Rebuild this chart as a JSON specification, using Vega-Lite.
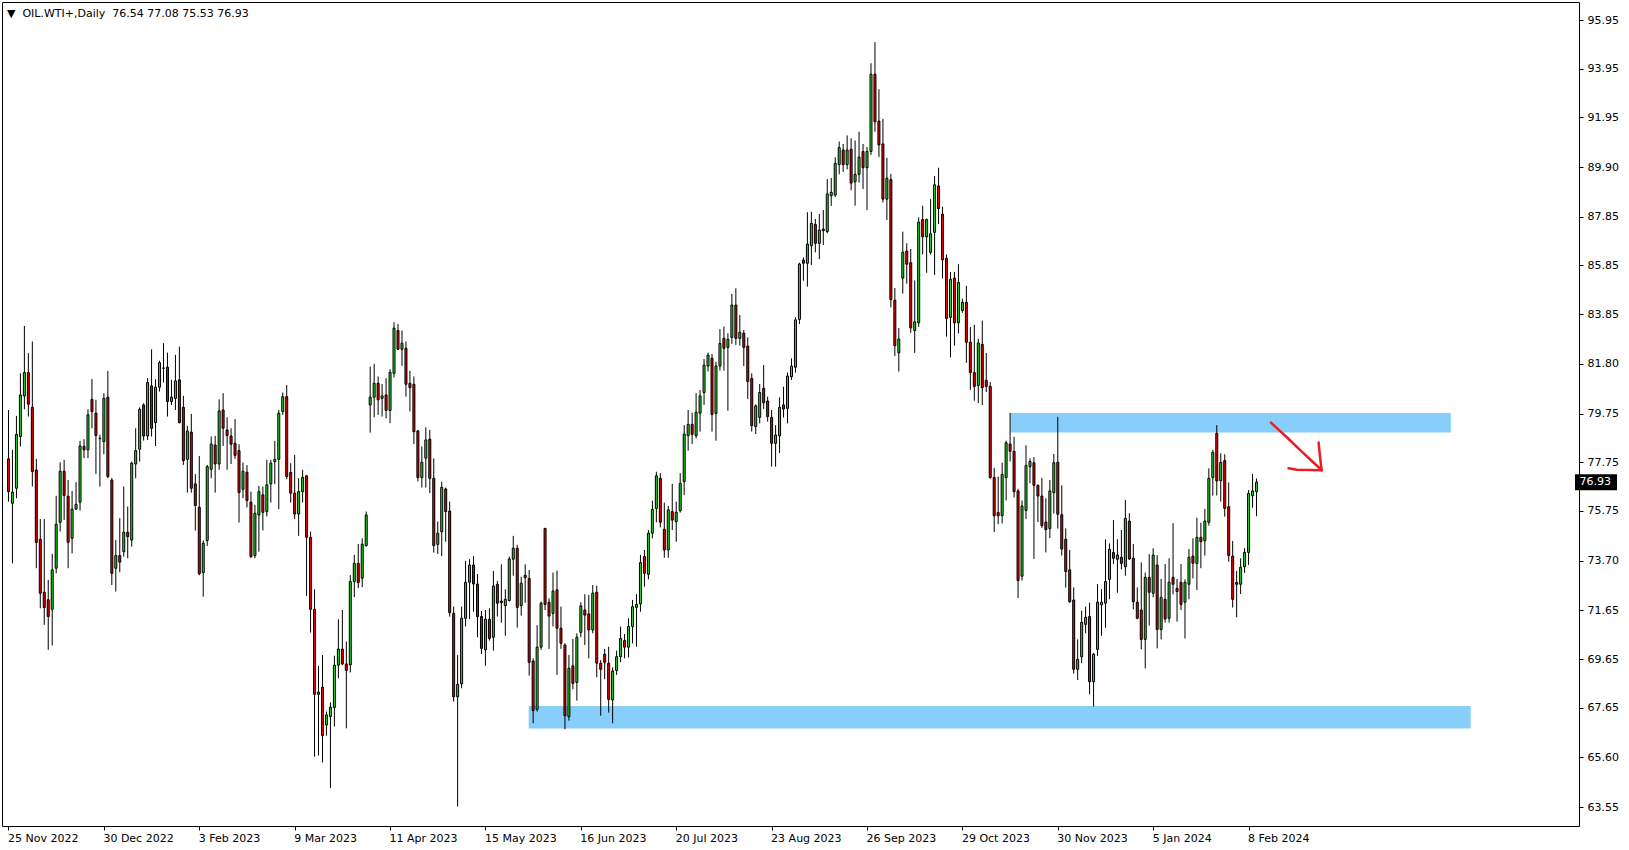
{
"$schema":"https://vega.github.io/schema/vega-lite/v6.json",
"width":1577,"height":824,
"autosize":{"type":"none"},
"padding":{"left":2,"top":2,"right":50,"bottom":24},
"background":"white",
"config":{"view":{"stroke":"black","strokeWidth":1},"font":"DejaVu Sans"},
"title":{"text":"▼\u00a0\u00a0OIL.WTI+,Daily\u00a0\u00a076.54 77.08 75.53 76.93","anchor":"start","frame":"group","offset":-26,"baseline":"alphabetic","dx":5,"font":"DejaVu Sans","fontSize":11,"fontWeight":"normal","color":"black"},
"datasets":{
"zones":[{"x1":252.125,"x2":362.875,"y1":78.97,"y2":79.78},{"x1":130.875,"x2":367.875,"y1":66.79,"y2":67.72}],
"arrow":[
{"s":1,"o":1,"x":317.625,"y":79.38},{"s":1,"o":2,"x":321.625,"y":78.78},{"s":1,"o":3,"x":325.125,"y":78.23},{"s":1,"o":4,"x":328.375,"y":77.73},{"s":1,"o":5,"x":330.375,"y":77.43},
{"s":2,"o":1,"x":322.05,"y":77.5},{"s":2,"o":2,"x":324.125,"y":77.44},{"s":2,"o":3,"x":327.45,"y":77.43},{"s":2,"o":4,"x":330.375,"y":77.42},
{"s":3,"o":1,"x":329.625,"y":78.56},{"s":3,"o":2,"x":329.8,"y":78.26},{"s":3,"o":3,"x":330.125,"y":77.77},{"s":3,"o":4,"x":330.375,"y":77.43}],
"last":[{"p":76.93}],
"candles":[
{"i":0,"o":77.89,"h":79.90,"l":76.13,"c":76.54},
{"i":1,"o":76.06,"h":78.26,"l":73.59,"c":76.52},
{"i":2,"o":76.68,"h":79.66,"l":76.27,"c":78.90},
{"i":3,"o":78.81,"h":81.41,"l":78.40,"c":80.52},
{"i":4,"o":80.48,"h":83.36,"l":79.93,"c":81.44},
{"i":5,"o":81.44,"h":82.24,"l":79.63,"c":80.14},
{"i":6,"o":80.01,"h":82.72,"l":76.75,"c":77.37},
{"i":7,"o":77.43,"h":77.89,"l":73.39,"c":74.45},
{"i":8,"o":74.58,"h":75.41,"l":71.74,"c":72.36},
{"i":9,"o":72.40,"h":75.41,"l":71.06,"c":71.77},
{"i":10,"o":72.09,"h":72.91,"l":70.03,"c":71.40},
{"i":11,"o":71.70,"h":73.98,"l":70.21,"c":73.32},
{"i":12,"o":73.39,"h":76.37,"l":73.18,"c":75.20},
{"i":13,"o":75.28,"h":77.75,"l":74.90,"c":77.38},
{"i":14,"o":77.38,"h":77.85,"l":75.38,"c":76.38},
{"i":15,"o":76.35,"h":77.02,"l":73.39,"c":74.46},
{"i":16,"o":74.62,"h":76.57,"l":74.00,"c":75.82},
{"i":17,"o":75.82,"h":76.93,"l":75.79,"c":76.02},
{"i":18,"o":76.11,"h":78.63,"l":75.76,"c":78.42},
{"i":19,"o":78.40,"h":78.70,"l":77.92,"c":78.26},
{"i":20,"o":78.26,"h":79.93,"l":77.92,"c":79.70},
{"i":21,"o":80.34,"h":81.18,"l":79.15,"c":79.84},
{"i":22,"o":79.77,"h":80.32,"l":77.27,"c":78.85},
{"i":23,"o":78.74,"h":78.88,"l":76.75,"c":78.72},
{"i":24,"o":78.60,"h":80.59,"l":78.08,"c":80.38},
{"i":25,"o":80.43,"h":81.51,"l":77.10,"c":77.16},
{"i":26,"o":77.02,"h":77.10,"l":72.70,"c":73.18},
{"i":27,"o":73.39,"h":74.55,"l":72.43,"c":73.91},
{"i":28,"o":73.91,"h":75.45,"l":73.22,"c":73.64},
{"i":29,"o":74.07,"h":76.75,"l":73.87,"c":74.87},
{"i":30,"o":74.87,"h":75.93,"l":73.80,"c":74.69},
{"i":31,"o":74.55,"h":77.78,"l":74.28,"c":77.71},
{"i":32,"o":77.68,"h":79.15,"l":77.09,"c":78.23},
{"i":33,"o":78.29,"h":80.01,"l":77.78,"c":79.93},
{"i":34,"o":80.11,"h":80.18,"l":78.64,"c":78.83},
{"i":35,"o":78.83,"h":81.21,"l":78.67,"c":81.03},
{"i":36,"o":80.89,"h":82.40,"l":78.81,"c":79.15},
{"i":37,"o":79.38,"h":81.17,"l":78.42,"c":80.84},
{"i":38,"o":80.84,"h":81.93,"l":80.66,"c":81.85},
{"i":39,"o":81.62,"h":82.65,"l":81.03,"c":81.63},
{"i":40,"o":81.66,"h":82.26,"l":79.63,"c":80.25},
{"i":41,"o":80.25,"h":81.14,"l":80.10,"c":80.43},
{"i":42,"o":80.38,"h":82.17,"l":79.90,"c":81.10},
{"i":43,"o":81.14,"h":82.51,"l":79.35,"c":79.38},
{"i":44,"o":80.01,"h":80.48,"l":77.64,"c":77.82},
{"i":45,"o":77.87,"h":79.25,"l":76.50,"c":79.04},
{"i":46,"o":78.99,"h":79.74,"l":76.50,"c":76.68},
{"i":47,"o":76.86,"h":77.26,"l":74.94,"c":75.97},
{"i":48,"o":75.90,"h":78.01,"l":73.10,"c":73.16},
{"i":49,"o":73.21,"h":74.53,"l":72.22,"c":74.42},
{"i":50,"o":74.53,"h":77.64,"l":74.31,"c":77.57},
{"i":51,"o":77.46,"h":78.81,"l":77.09,"c":78.50},
{"i":52,"o":78.46,"h":78.83,"l":76.50,"c":77.68},
{"i":53,"o":77.68,"h":80.34,"l":77.44,"c":79.86},
{"i":54,"o":79.90,"h":80.59,"l":78.42,"c":79.15},
{"i":55,"o":79.08,"h":79.60,"l":77.44,"c":78.85},
{"i":56,"o":78.83,"h":79.15,"l":77.68,"c":78.49},
{"i":57,"o":78.53,"h":79.53,"l":77.89,"c":78.03},
{"i":58,"o":78.23,"h":78.49,"l":75.27,"c":76.50},
{"i":59,"o":76.64,"h":77.74,"l":76.27,"c":77.38},
{"i":60,"o":77.34,"h":77.63,"l":75.89,"c":76.17},
{"i":61,"o":76.11,"h":76.54,"l":73.80,"c":73.87},
{"i":62,"o":73.91,"h":76.00,"l":73.80,"c":75.65},
{"i":63,"o":75.58,"h":76.78,"l":74.07,"c":76.54},
{"i":64,"o":76.41,"h":76.75,"l":74.94,"c":75.69},
{"i":65,"o":75.72,"h":77.85,"l":75.52,"c":76.82},
{"i":66,"o":76.86,"h":77.85,"l":76.09,"c":77.71},
{"i":67,"o":77.78,"h":78.63,"l":76.85,"c":77.87},
{"i":68,"o":77.87,"h":79.90,"l":75.82,"c":79.77},
{"i":69,"o":79.84,"h":80.62,"l":79.70,"c":80.45},
{"i":70,"o":80.45,"h":80.93,"l":77.05,"c":77.16},
{"i":71,"o":77.33,"h":77.71,"l":76.09,"c":76.48},
{"i":72,"o":76.48,"h":78.05,"l":75.41,"c":75.62},
{"i":73,"o":75.62,"h":77.09,"l":74.72,"c":76.54},
{"i":74,"o":76.54,"h":77.44,"l":76.09,"c":77.13},
{"i":75,"o":77.19,"h":77.23,"l":72.25,"c":74.66},
{"i":76,"o":74.66,"h":74.90,"l":70.74,"c":71.70},
{"i":77,"o":71.70,"h":72.52,"l":65.64,"c":68.20},
{"i":78,"o":68.20,"h":69.37,"l":65.68,"c":68.29},
{"i":79,"o":68.49,"h":69.82,"l":65.40,"c":66.50},
{"i":80,"o":66.94,"h":67.49,"l":66.50,"c":67.35},
{"i":81,"o":67.29,"h":67.87,"l":64.34,"c":67.67},
{"i":82,"o":67.66,"h":69.79,"l":66.87,"c":69.40},
{"i":83,"o":69.40,"h":71.29,"l":68.86,"c":70.06},
{"i":84,"o":70.06,"h":71.67,"l":69.40,"c":69.45},
{"i":85,"o":69.45,"h":70.37,"l":66.80,"c":69.18},
{"i":86,"o":69.41,"h":73.11,"l":69.10,"c":72.84},
{"i":87,"o":72.84,"h":73.94,"l":72.20,"c":73.59},
{"i":88,"o":73.59,"h":74.39,"l":72.57,"c":72.80},
{"i":89,"o":72.98,"h":74.62,"l":72.61,"c":74.38},
{"i":90,"o":74.32,"h":75.72,"l":74.28,"c":75.58},
{"i":91,"o":80.11,"h":81.69,"l":78.97,"c":80.43},
{"i":92,"o":80.43,"h":81.80,"l":79.60,"c":81.00},
{"i":93,"o":81.00,"h":81.28,"l":79.70,"c":80.32},
{"i":94,"o":80.38,"h":80.97,"l":79.63,"c":80.48},
{"i":95,"o":80.52,"h":81.21,"l":79.56,"c":79.88},
{"i":96,"o":79.88,"h":81.58,"l":79.36,"c":81.45},
{"i":97,"o":81.41,"h":83.51,"l":81.24,"c":83.27},
{"i":98,"o":83.17,"h":83.44,"l":82.37,"c":82.40},
{"i":99,"o":82.40,"h":83.17,"l":81.72,"c":82.65},
{"i":100,"o":82.44,"h":82.72,"l":80.45,"c":80.96},
{"i":101,"o":81.00,"h":81.51,"l":79.84,"c":80.82},
{"i":102,"o":80.96,"h":81.28,"l":78.50,"c":79.01},
{"i":103,"o":79.04,"h":79.08,"l":76.96,"c":77.12},
{"i":104,"o":77.12,"h":78.40,"l":76.71,"c":77.75},
{"i":105,"o":77.92,"h":79.19,"l":76.71,"c":78.67},
{"i":106,"o":78.70,"h":79.08,"l":76.48,"c":77.09},
{"i":107,"o":77.09,"h":77.91,"l":74.03,"c":74.32},
{"i":108,"o":74.37,"h":75.31,"l":73.98,"c":74.83},
{"i":109,"o":74.89,"h":76.95,"l":73.89,"c":76.72},
{"i":110,"o":76.65,"h":76.71,"l":74.48,"c":75.72},
{"i":111,"o":75.74,"h":76.13,"l":71.40,"c":71.56},
{"i":112,"o":71.53,"h":71.81,"l":67.90,"c":68.10},
{"i":113,"o":68.10,"h":69.82,"l":63.58,"c":68.61},
{"i":114,"o":68.63,"h":71.81,"l":68.45,"c":71.33},
{"i":115,"o":71.33,"h":73.69,"l":70.99,"c":72.81},
{"i":116,"o":72.81,"h":73.76,"l":71.30,"c":73.52},
{"i":117,"o":73.52,"h":73.89,"l":71.60,"c":72.74},
{"i":118,"o":72.74,"h":73.15,"l":70.55,"c":71.40},
{"i":119,"o":71.40,"h":71.63,"l":69.86,"c":70.09},
{"i":120,"o":70.03,"h":71.67,"l":69.38,"c":71.29},
{"i":121,"o":71.29,"h":71.74,"l":70.41,"c":70.50},
{"i":122,"o":70.55,"h":73.28,"l":70.00,"c":72.66},
{"i":123,"o":72.73,"h":72.87,"l":71.40,"c":71.95},
{"i":124,"o":72.04,"h":73.55,"l":71.15,"c":71.97},
{"i":125,"o":71.85,"h":72.52,"l":70.61,"c":72.11},
{"i":126,"o":72.06,"h":73.87,"l":72.02,"c":73.77},
{"i":127,"o":73.76,"h":74.72,"l":73.08,"c":74.21},
{"i":128,"o":74.21,"h":74.35,"l":70.94,"c":71.78},
{"i":129,"o":71.85,"h":73.04,"l":71.44,"c":72.77},
{"i":130,"o":73.10,"h":73.55,"l":71.97,"c":73.00},
{"i":131,"o":72.97,"h":73.32,"l":68.97,"c":69.52},
{"i":132,"o":69.57,"h":69.68,"l":67.01,"c":67.53},
{"i":133,"o":67.58,"h":71.05,"l":67.49,"c":70.14},
{"i":134,"o":70.14,"h":72.02,"l":70.03,"c":71.95},
{"i":135,"o":75.03,"h":75.03,"l":71.67,"c":71.90},
{"i":136,"o":71.99,"h":72.15,"l":70.07,"c":71.42},
{"i":137,"o":71.53,"h":73.21,"l":70.99,"c":72.45},
{"i":138,"o":72.50,"h":73.29,"l":69.00,"c":70.92},
{"i":139,"o":70.92,"h":71.81,"l":70.07,"c":70.30},
{"i":140,"o":70.23,"h":70.30,"l":66.76,"c":67.32},
{"i":141,"o":67.28,"h":69.82,"l":67.12,"c":69.27},
{"i":142,"o":69.37,"h":70.48,"l":68.41,"c":68.65},
{"i":143,"o":68.69,"h":70.71,"l":67.94,"c":70.55},
{"i":144,"o":70.75,"h":71.99,"l":70.55,"c":71.84},
{"i":145,"o":71.67,"h":72.32,"l":70.23,"c":71.46},
{"i":146,"o":71.51,"h":72.29,"l":69.68,"c":70.85},
{"i":147,"o":70.85,"h":72.70,"l":70.71,"c":72.36},
{"i":148,"o":72.40,"h":72.67,"l":68.90,"c":69.48},
{"i":149,"o":69.48,"h":69.61,"l":67.32,"c":69.23},
{"i":150,"o":69.85,"h":70.07,"l":68.82,"c":69.52},
{"i":151,"o":69.48,"h":70.16,"l":67.45,"c":67.99},
{"i":152,"o":67.97,"h":69.31,"l":67.01,"c":69.16},
{"i":153,"o":69.18,"h":70.00,"l":69.00,"c":69.75},
{"i":154,"o":69.75,"h":70.99,"l":69.52,"c":70.50},
{"i":155,"o":70.41,"h":70.68,"l":69.68,"c":70.14},
{"i":156,"o":70.14,"h":71.33,"l":69.72,"c":70.99},
{"i":157,"o":70.99,"h":72.08,"l":70.30,"c":71.81},
{"i":158,"o":71.78,"h":72.32,"l":70.16,"c":71.90},
{"i":159,"o":71.92,"h":73.94,"l":71.60,"c":73.62},
{"i":160,"o":73.87,"h":74.14,"l":72.63,"c":73.18},
{"i":161,"o":73.14,"h":74.96,"l":72.93,"c":74.83},
{"i":162,"o":74.83,"h":76.17,"l":74.62,"c":75.81},
{"i":163,"o":75.85,"h":77.36,"l":75.28,"c":77.19},
{"i":164,"o":77.09,"h":77.30,"l":75.07,"c":75.28},
{"i":165,"o":74.99,"h":76.09,"l":73.82,"c":74.14},
{"i":166,"o":74.14,"h":75.95,"l":73.82,"c":75.79},
{"i":167,"o":75.72,"h":76.86,"l":74.96,"c":75.37},
{"i":168,"o":75.31,"h":76.13,"l":74.48,"c":75.69},
{"i":169,"o":75.76,"h":77.30,"l":75.68,"c":76.88},
{"i":170,"o":76.95,"h":79.28,"l":76.40,"c":78.91},
{"i":171,"o":78.84,"h":79.90,"l":78.23,"c":79.31},
{"i":172,"o":79.31,"h":79.79,"l":78.50,"c":78.90},
{"i":173,"o":78.84,"h":80.59,"l":78.73,"c":79.81},
{"i":174,"o":79.77,"h":80.72,"l":79.01,"c":80.48},
{"i":175,"o":80.62,"h":82.00,"l":80.11,"c":81.75},
{"i":176,"o":81.71,"h":82.26,"l":81.48,"c":82.16},
{"i":177,"o":82.03,"h":82.21,"l":79.01,"c":79.72},
{"i":178,"o":79.76,"h":81.89,"l":78.64,"c":81.71},
{"i":179,"o":81.71,"h":83.23,"l":81.52,"c":82.64},
{"i":180,"o":82.85,"h":83.33,"l":81.52,"c":82.44},
{"i":181,"o":82.48,"h":83.06,"l":79.87,"c":82.81},
{"i":182,"o":82.89,"h":84.68,"l":82.62,"c":84.22},
{"i":183,"o":84.22,"h":84.91,"l":82.58,"c":82.85},
{"i":184,"o":82.85,"h":83.81,"l":82.55,"c":83.10},
{"i":185,"o":83.06,"h":83.19,"l":81.71,"c":82.48},
{"i":186,"o":82.53,"h":82.89,"l":80.35,"c":81.07},
{"i":187,"o":81.20,"h":81.41,"l":79.01,"c":79.26},
{"i":188,"o":79.22,"h":80.13,"l":78.91,"c":80.07},
{"i":189,"o":79.60,"h":80.97,"l":79.35,"c":80.62},
{"i":190,"o":80.79,"h":81.75,"l":79.94,"c":80.20},
{"i":191,"o":80.27,"h":80.45,"l":79.42,"c":79.63},
{"i":192,"o":79.60,"h":79.90,"l":77.57,"c":78.53},
{"i":193,"o":78.53,"h":79.28,"l":77.57,"c":78.87},
{"i":194,"o":78.84,"h":80.42,"l":78.13,"c":80.01},
{"i":195,"o":80.11,"h":80.86,"l":79.59,"c":79.94},
{"i":196,"o":79.97,"h":81.44,"l":79.35,"c":81.30},
{"i":197,"o":81.27,"h":82.03,"l":81.14,"c":81.71},
{"i":198,"o":81.66,"h":83.72,"l":81.44,"c":83.61},
{"i":199,"o":83.63,"h":85.96,"l":83.44,"c":85.91},
{"i":200,"o":86.07,"h":86.18,"l":85.22,"c":85.94},
{"i":201,"o":85.94,"h":88.04,"l":84.98,"c":86.73},
{"i":202,"o":86.66,"h":88.06,"l":85.87,"c":87.58},
{"i":203,"o":87.54,"h":87.76,"l":86.39,"c":86.76},
{"i":204,"o":86.76,"h":87.97,"l":86.11,"c":87.31},
{"i":205,"o":87.35,"h":88.13,"l":86.69,"c":87.28},
{"i":206,"o":87.24,"h":89.40,"l":87.17,"c":88.79},
{"i":207,"o":88.72,"h":89.45,"l":88.30,"c":88.86},
{"i":208,"o":88.75,"h":90.30,"l":88.66,"c":90.05},
{"i":209,"o":90.00,"h":90.95,"l":89.60,"c":90.70},
{"i":210,"o":90.60,"h":90.85,"l":89.70,"c":90.00},
{"i":211,"o":90.00,"h":91.20,"l":89.80,"c":90.60},
{"i":212,"o":90.63,"h":91.08,"l":88.94,"c":89.24},
{"i":213,"o":89.29,"h":90.99,"l":88.31,"c":89.60},
{"i":214,"o":89.60,"h":91.35,"l":89.26,"c":90.31},
{"i":215,"o":90.54,"h":90.85,"l":88.99,"c":89.87},
{"i":216,"o":89.87,"h":90.72,"l":88.13,"c":90.54},
{"i":217,"o":90.54,"h":94.17,"l":90.40,"c":93.72},
{"i":218,"o":93.72,"h":95.04,"l":91.35,"c":91.76},
{"i":219,"o":91.79,"h":93.10,"l":90.31,"c":90.81},
{"i":220,"o":90.85,"h":91.88,"l":88.44,"c":88.58},
{"i":221,"o":88.58,"h":90.28,"l":87.72,"c":89.44},
{"i":222,"o":89.38,"h":89.62,"l":84.12,"c":84.44},
{"i":223,"o":84.42,"h":84.92,"l":82.12,"c":82.55},
{"i":224,"o":82.25,"h":83.28,"l":81.48,"c":82.82},
{"i":225,"o":85.33,"h":87.24,"l":84.69,"c":86.39},
{"i":226,"o":86.44,"h":86.76,"l":85.10,"c":85.90},
{"i":227,"o":85.96,"h":86.53,"l":83.08,"c":83.28},
{"i":228,"o":83.17,"h":85.23,"l":82.25,"c":83.53},
{"i":229,"o":83.49,"h":87.83,"l":83.32,"c":87.63},
{"i":230,"o":87.74,"h":88.31,"l":86.30,"c":87.03},
{"i":231,"o":87.03,"h":87.78,"l":85.55,"c":87.74},
{"i":232,"o":86.39,"h":88.58,"l":86.30,"c":87.15},
{"i":233,"o":87.21,"h":89.53,"l":85.46,"c":89.17},
{"i":234,"o":89.12,"h":89.87,"l":87.55,"c":88.19},
{"i":235,"o":87.96,"h":88.26,"l":85.31,"c":86.08},
{"i":236,"o":86.14,"h":86.30,"l":82.92,"c":83.67},
{"i":237,"o":83.71,"h":85.58,"l":82.07,"c":85.28},
{"i":238,"o":85.33,"h":85.58,"l":82.55,"c":83.49},
{"i":239,"o":83.49,"h":85.90,"l":83.05,"c":85.15},
{"i":240,"o":84.00,"h":84.48,"l":83.90,"c":84.33},
{"i":241,"o":84.33,"h":85.01,"l":81.84,"c":82.69},
{"i":242,"o":82.69,"h":83.32,"l":80.73,"c":81.44},
{"i":243,"o":81.44,"h":83.41,"l":80.28,"c":80.87},
{"i":244,"o":80.91,"h":82.83,"l":80.19,"c":82.66},
{"i":245,"o":82.60,"h":83.58,"l":80.10,"c":80.82},
{"i":246,"o":81.12,"h":82.25,"l":80.64,"c":80.87},
{"i":247,"o":80.87,"h":81.05,"l":77.07,"c":77.12},
{"i":248,"o":77.12,"h":77.52,"l":74.88,"c":75.55},
{"i":249,"o":75.68,"h":77.16,"l":75.20,"c":75.55},
{"i":250,"o":75.55,"h":77.73,"l":75.23,"c":77.25},
{"i":251,"o":77.12,"h":78.64,"l":76.18,"c":78.55},
{"i":252,"o":78.50,"h":79.78,"l":77.78,"c":78.20},
{"i":253,"o":78.20,"h":78.80,"l":76.30,"c":76.54},
{"i":254,"o":76.57,"h":76.66,"l":72.16,"c":72.88},
{"i":255,"o":73.06,"h":76.18,"l":72.88,"c":75.95},
{"i":256,"o":75.77,"h":78.45,"l":75.41,"c":77.61},
{"i":257,"o":77.57,"h":77.91,"l":76.89,"c":77.78},
{"i":258,"o":77.73,"h":77.96,"l":73.77,"c":76.80},
{"i":259,"o":76.80,"h":76.84,"l":75.29,"c":76.36},
{"i":260,"o":76.36,"h":77.11,"l":75.05,"c":75.14},
{"i":261,"o":75.29,"h":76.27,"l":74.04,"c":74.98},
{"i":262,"o":75.02,"h":77.02,"l":74.63,"c":76.57},
{"i":263,"o":76.50,"h":78.09,"l":75.64,"c":77.73},
{"i":264,"o":77.75,"h":79.62,"l":75.02,"c":75.61},
{"i":265,"o":75.59,"h":76.80,"l":73.91,"c":74.18},
{"i":266,"o":74.58,"h":75.03,"l":72.59,"c":73.25},
{"i":267,"o":73.32,"h":74.14,"l":71.97,"c":72.01},
{"i":268,"o":72.08,"h":72.60,"l":69.06,"c":69.23},
{"i":269,"o":69.23,"h":70.46,"l":68.79,"c":69.64},
{"i":270,"o":69.75,"h":71.64,"l":69.48,"c":71.16},
{"i":271,"o":71.08,"h":71.81,"l":70.71,"c":71.37},
{"i":272,"o":71.40,"h":71.97,"l":68.20,"c":68.72},
{"i":273,"o":68.72,"h":69.91,"l":67.70,"c":69.85},
{"i":274,"o":70.05,"h":72.74,"l":69.78,"c":71.99},
{"i":275,"o":71.88,"h":72.53,"l":70.61,"c":71.99},
{"i":276,"o":71.95,"h":74.58,"l":70.94,"c":72.84},
{"i":277,"o":72.93,"h":74.41,"l":72.11,"c":74.17},
{"i":278,"o":74.04,"h":75.37,"l":73.56,"c":73.80},
{"i":279,"o":73.76,"h":74.58,"l":72.38,"c":73.93},
{"i":280,"o":73.84,"h":74.96,"l":73.34,"c":73.59},
{"i":281,"o":73.45,"h":76.20,"l":73.08,"c":75.44},
{"i":282,"o":75.33,"h":75.65,"l":73.73,"c":73.77},
{"i":283,"o":73.80,"h":74.39,"l":71.70,"c":72.01},
{"i":284,"o":71.99,"h":72.60,"l":71.29,"c":71.33},
{"i":285,"o":71.67,"h":73.63,"l":70.05,"c":70.46},
{"i":286,"o":70.46,"h":73.21,"l":69.27,"c":73.01},
{"i":287,"o":73.01,"h":73.97,"l":71.03,"c":72.40},
{"i":288,"o":72.36,"h":74.21,"l":72.19,"c":73.93},
{"i":289,"o":73.52,"h":73.93,"l":70.09,"c":70.87},
{"i":290,"o":70.87,"h":72.95,"l":70.46,"c":72.19},
{"i":291,"o":72.11,"h":73.56,"l":71.15,"c":71.30},
{"i":292,"o":71.33,"h":73.80,"l":71.15,"c":72.81},
{"i":293,"o":73.01,"h":75.24,"l":72.31,"c":72.73},
{"i":294,"o":72.56,"h":72.95,"l":71.19,"c":72.43},
{"i":295,"o":72.81,"h":73.56,"l":71.67,"c":71.90},
{"i":296,"o":71.99,"h":72.93,"l":70.50,"c":72.81},
{"i":297,"o":72.73,"h":74.18,"l":72.11,"c":73.84},
{"i":298,"o":73.89,"h":74.62,"l":72.97,"c":73.59},
{"i":299,"o":73.59,"h":75.47,"l":72.49,"c":74.66},
{"i":300,"o":74.66,"h":75.26,"l":73.39,"c":74.48},
{"i":301,"o":74.52,"h":75.83,"l":73.91,"c":75.33},
{"i":302,"o":75.28,"h":77.50,"l":75.14,"c":77.09},
{"i":303,"o":77.12,"h":78.26,"l":76.38,"c":78.16},
{"i":304,"o":78.94,"h":79.28,"l":76.38,"c":76.98},
{"i":305,"o":76.99,"h":78.12,"l":76.13,"c":77.75},
{"i":306,"o":77.82,"h":78.08,"l":75.51,"c":75.85},
{"i":307,"o":75.92,"h":76.92,"l":73.66,"c":73.91},
{"i":308,"o":73.89,"h":74.51,"l":71.77,"c":72.11},
{"i":309,"o":72.80,"h":73.28,"l":71.37,"c":72.73},
{"i":310,"o":72.73,"h":73.80,"l":72.33,"c":73.43},
{"i":311,"o":73.45,"h":74.21,"l":73.20,"c":74.04},
{"i":312,"o":74.04,"h":76.61,"l":73.52,"c":76.47},
{"i":313,"o":76.37,"h":77.27,"l":75.88,"c":76.57},
{"i":314,"o":76.54,"h":77.08,"l":75.53,"c":76.93}
]},
"layer":[
{"data":{"name":"zones"},"mark":{"type":"rect","color":"#87cefa"},
 "encoding":{
  "x":{"field":"x1","type":"quantitative","scale":{"domain":[-0.375,393.875],"nice":false,"zero":false},
   "axis":{"orient":"bottom","values":[0,24,48,72,96,120,144,168,192,216,240,264,288,312],
    "labelExpr":"['25 Nov 2022','30 Dec 2022','3 Feb 2023','9 Mar 2023','11 Apr 2023','15 May 2023','16 Jun 2023','20 Jul 2023','23 Aug 2023','26 Sep 2023','29 Oct 2023','30 Nov 2023','5 Jan 2024','8 Feb 2024'][round(datum.value/24)]",
    "title":null,"grid":false,"domain":false,"tickSize":4,"tickColor":"black","labelColor":"black","labelFont":"DejaVu Sans","labelFontSize":11,"labelAlign":"left","labelBaseline":"top","labelPadding":2,"labelOffset":-1,"labelOverlap":false,"labelBound":false,"labelFlush":false}},
  "x2":{"field":"x2"},
  "y":{"field":"y1","type":"quantitative","scale":{"domain":[62.781,96.691],"nice":false,"zero":false},
   "axis":{"orient":"right","values":[95.95,93.95,91.95,89.9,87.85,85.85,83.85,81.8,79.75,77.75,75.75,73.7,71.65,69.65,67.65,65.6,63.55],"format":".2f",
    "title":null,"grid":false,"domain":false,"tickSize":4,"tickColor":"black","labelColor":"black","labelFont":"DejaVu Sans","labelFontSize":11,"labelPadding":4,"labelOverlap":false,"labelBound":false,"labelFlush":false}},
  "y2":{"field":"y2"}}},
{"data":{"name":"candles"},"mark":{"type":"rule","color":"black","strokeWidth":1},
 "encoding":{"x":{"field":"i","type":"quantitative"},"y":{"field":"l","type":"quantitative"},"y2":{"field":"h"}}},
{"data":{"name":"candles"},"mark":{"type":"bar","size":2,"stroke":"black","strokeWidth":1,"opacity":1},
 "encoding":{"x":{"field":"i","type":"quantitative"},"y":{"field":"o","type":"quantitative"},"y2":{"field":"c"},
  "fill":{"condition":{"test":"datum.c >= datum.o","value":"#1fdc1f"},"value":"#ec0000"}}},
{"data":{"name":"arrow"},"mark":{"type":"line","color":"#ec1c24","strokeWidth":2.5,"strokeCap":"round","strokeJoin":"round"},
 "encoding":{"x":{"field":"x","type":"quantitative"},"y":{"field":"y","type":"quantitative"},"detail":{"field":"s"},"order":{"field":"o"}}},
{"data":{"name":"last"},"mark":{"type":"point","shape":"M0,-1H5.25V1H0Z","size":256,"filled":true,"color":"black","opacity":1,"strokeWidth":0},
 "encoding":{"x":{"datum":394.125,"type":"quantitative"},"y":{"field":"p","type":"quantitative"}}},
{"data":{"name":"last"},"mark":{"type":"text","align":"left","baseline":"middle","color":"white","font":"DejaVu Sans","fontSize":11},
 "encoding":{"x":{"datum":395.25,"type":"quantitative"},"y":{"field":"p","type":"quantitative"},"text":{"field":"p","type":"quantitative","format":".2f"}}}
]
}
